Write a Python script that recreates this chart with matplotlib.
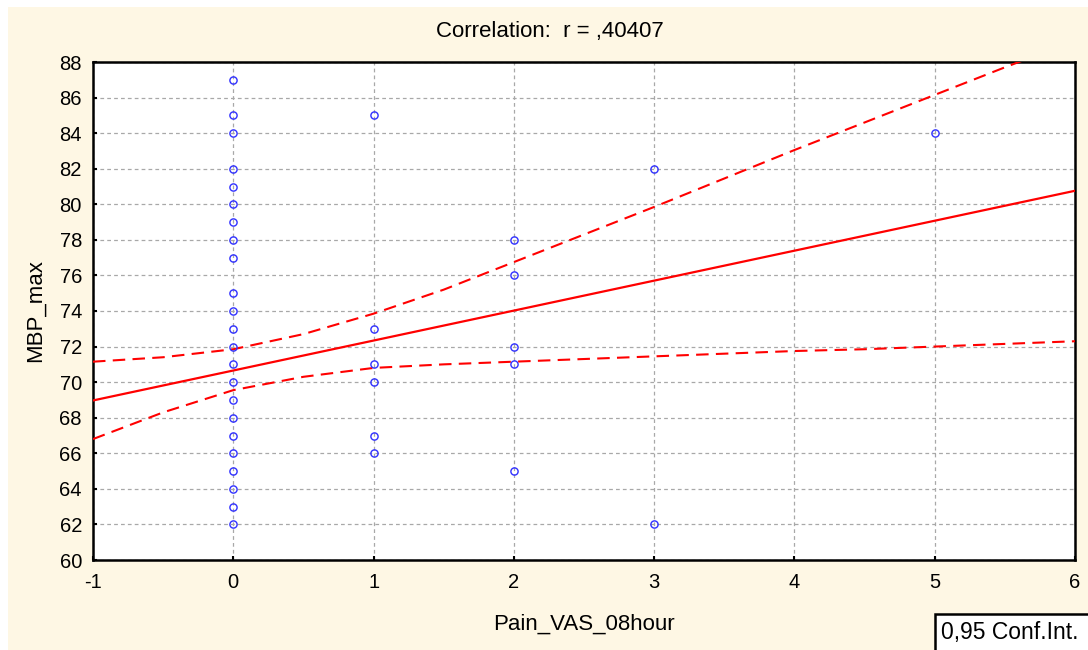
import matplotlib
matplotlib.use("Agg")
import matplotlib.pyplot as plt
from matplotlib.patches import Rectangle

plt.rcParams['font.family'] = ['Liberation Sans', 'DejaVu Sans']
plt.rcParams['axes.unicode_minus'] = False

# data
pain_x = [0] * 23 + [1] * 6 + [2] * 5 + [3] * 2 + [5]
mbp_y = [87, 85, 84, 82, 81, 80, 79, 78, 77, 75, 74, 73, 72, 71, 70, 69, 68, 67, 66, 65, 64, 63, 62,
         85, 73, 71, 70, 67, 66,
         78, 76, 72, 71, 65,
         82, 62,
         84]

# regression line and 95% band
fit_x = [-1, 6]
fit_y = [68.97, 80.76]
band_x = [-1, -0.5, 0, 0.5, 1, 1.5, 2, 2.5, 3, 3.5, 4, 4.5, 5, 5.5, 6]
band_hi = [71.15, 71.4, 71.85, 72.7, 73.85, 75.2, 76.75, 78.3, 79.85, 81.45, 83.05, 84.6, 86.15, 87.7, 89.2]
band_lo = [66.8, 68.3, 69.55, 70.3, 70.8, 71.0, 71.15, 71.3, 71.45, 71.6, 71.75, 71.85, 72.0, 72.15, 72.3]

x_ticks = [-1, 0, 1, 2, 3, 4, 5, 6]
y_ticks = list(range(60, 89, 2))

cream = '#fef7e4'

fig = plt.figure(figsize=(10.88, 6.5), dpi=100)
fig.patch.set_facecolor('white')
fig.patches.append(Rectangle((8 / 1088, 0), 1 - 8 / 1088, 1 - 7 / 650,
                             transform=fig.transFigure, facecolor=cream,
                             edgecolor='none', zorder=-10))

ax = fig.add_axes([93 / 1088, 1 - 560 / 650, (1075 - 93) / 1088, (560 - 62) / 650])
ax.set_facecolor('white')

ax.plot(fit_x, fit_y, color='#ff0000', lw=1.6, zorder=3)
ax.plot(band_x, band_hi, color='#ff0000', lw=1.5, dashes=(6, 3.5), zorder=3)
ax.plot(band_x, band_lo, color='#ff0000', lw=1.5, dashes=(6, 3.5), zorder=3)
ax.plot(pain_x, mbp_y, 'o', mfc='none', mec='#3030ff', ms=5.2, mew=1.0, zorder=4,
        clip_on=False)

ax.set_xlim(-1, 6)
ax.set_ylim(60, 88)
ax.set_xticks(x_ticks)
ax.set_yticks(y_ticks)
ax.tick_params(direction='in', length=3, width=1.5, labelsize=14.5, top=False, right=False)
ax.tick_params(axis='x', pad=9)
ax.tick_params(axis='y', pad=8)
ax.grid(True, color='#a8a8a8', lw=0.9, linestyle=(0, (3, 2.5)))
for s in ax.spines.values():
    s.set_linewidth(1.8)
    s.set_color('black')

ax.set_xlabel('Pain_VAS_08hour', fontsize=16, labelpad=16)
ax.set_ylabel('MBP_max', fontsize=16, labelpad=10)

fig.text(550 / 1088, 1 - 32 / 650, 'Correlation:  r = ,40407', ha='center', va='center',
         fontsize=16)

# legend box, bottom right
fig.patches.append(Rectangle((935 / 1088, -0.01), 0.2, (650 - 614) / 650 + 0.01,
                             transform=fig.transFigure, facecolor='white',
                             edgecolor='black', lw=1.8, zorder=5))
fig.text(941 / 1088, 1 - 633 / 650, '0,95 Conf.Int.', ha='left', va='center',
         fontsize=16.5, zorder=6)

fig.savefig('out.png', dpi=100, facecolor=fig.get_facecolor())
